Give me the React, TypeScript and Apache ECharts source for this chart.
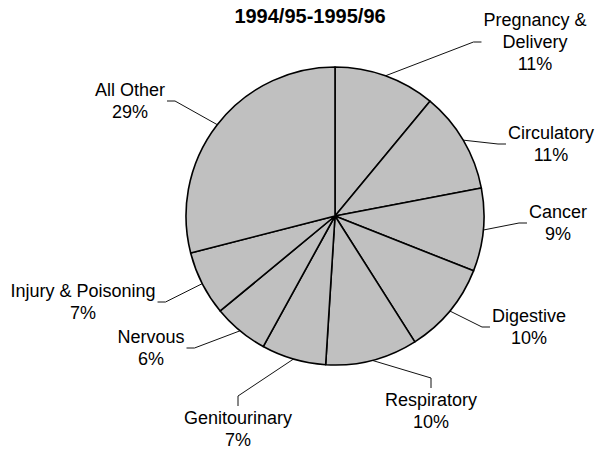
import React, { useEffect, useRef } from "react";
import * as echarts from "echarts";

const title = "1994/95-1995/96";
const categories = [
  "Pregnancy &\nDelivery",
  "Circulatory",
  "Cancer",
  "Digestive",
  "Respiratory",
  "Genitourinary",
  "Nervous",
  "Injury & Poisoning",
  "All Other",
];
const values = [11, 11, 9, 10, 10, 7, 6, 7, 29];

// label placement (centre of each label block) and the side where its leader line meets it
const labelX = [535, 551, 558, 529, 431, 238, 151, 83, 130];
const labelY = [42, 144, 223, 327, 411, 429, 348, 302, 101];
const labelSide = ["left", "left", "left", "left", "top", "top", "right", "right", "right"];

const FONT = "Liberation Sans, Arial, Helvetica, sans-serif";
const LEADER = 8;

export default function App() {
  const ref = useRef<HTMLDivElement>(null);
  useEffect(() => {
    if (!ref.current) return;
    const chart = echarts.init(ref.current, null, { renderer: "svg" });
    const fmt = (p: any) => {
      const lines = String(p.name).split("\n");
      lines.push(p.value + "%");
      return lines.map((l: string) => "{a|" + l + "}").join("\n");
    };
    chart.setOption({
      animation: false,
      backgroundColor: "#ffffff",
      title: {
        text: title,
        left: 305,
        top: 1,
        textAlign: "center",
        textStyle: {
          fontFamily: FONT,
          fontSize: 20,
          fontWeight: "bold",
          color: "#000",
        },
      },
      series: [
        {
          type: "pie",
          center: [335, 216],
          radius: 149,
          startAngle: 90,
          clockwise: true,
          avoidLabelOverlap: false,
          data: categories.map((c, i) => ({ name: c, value: values[i] })),
          itemStyle: { color: "#c0c0c0", borderColor: "#000", borderWidth: 1.6 },
          emphasis: { disabled: true },
          label: {
            position: "outside",
            formatter: fmt,
            color: "#000",
            fontFamily: FONT,
            fontSize: 18,
            lineHeight: 22,
            rich: {
              a: {
                align: "center",
                fontFamily: FONT,
                fontSize: 18,
                lineHeight: 22,
                color: "#000",
              },
            },
          },
          labelLine: {
            show: true,
            length: 20,
            length2: LEADER,
            lineStyle: { color: "#111", width: 1 },
          },
          labelLayout: (p: any) => {
            const i = p.dataIndex;
            const x = labelX[i];
            const y = labelY[i];
            const w = p.labelRect.width;
            const h = p.labelRect.height;
            const side = labelSide[i];
            let end: number[];
            let mid: number[];
            if (side === "left") {
              end = [x - w / 2 - 2, y];
              mid = [end[0] - LEADER, y];
            } else if (side === "right") {
              end = [x + w / 2 + 2, y];
              mid = [end[0] + LEADER, y];
            } else {
              end = [x, y - h / 2 - 1];
              mid = [x, end[1] - LEADER - 2];
            }
            const start = p.labelLinePoints ? p.labelLinePoints[0] : mid;
            return {
              x,
              y,
              align: "center",
              verticalAlign: "middle",
              labelLinePoints: [start, mid, end],
            };
          },
        },
      ],
    });
    return () => chart.dispose();
  }, []);
  return (
    <div
      ref={ref}
      style={{ position: "fixed", left: 0, top: 0, width: 597, height: 451 }}
    />
  );
}
